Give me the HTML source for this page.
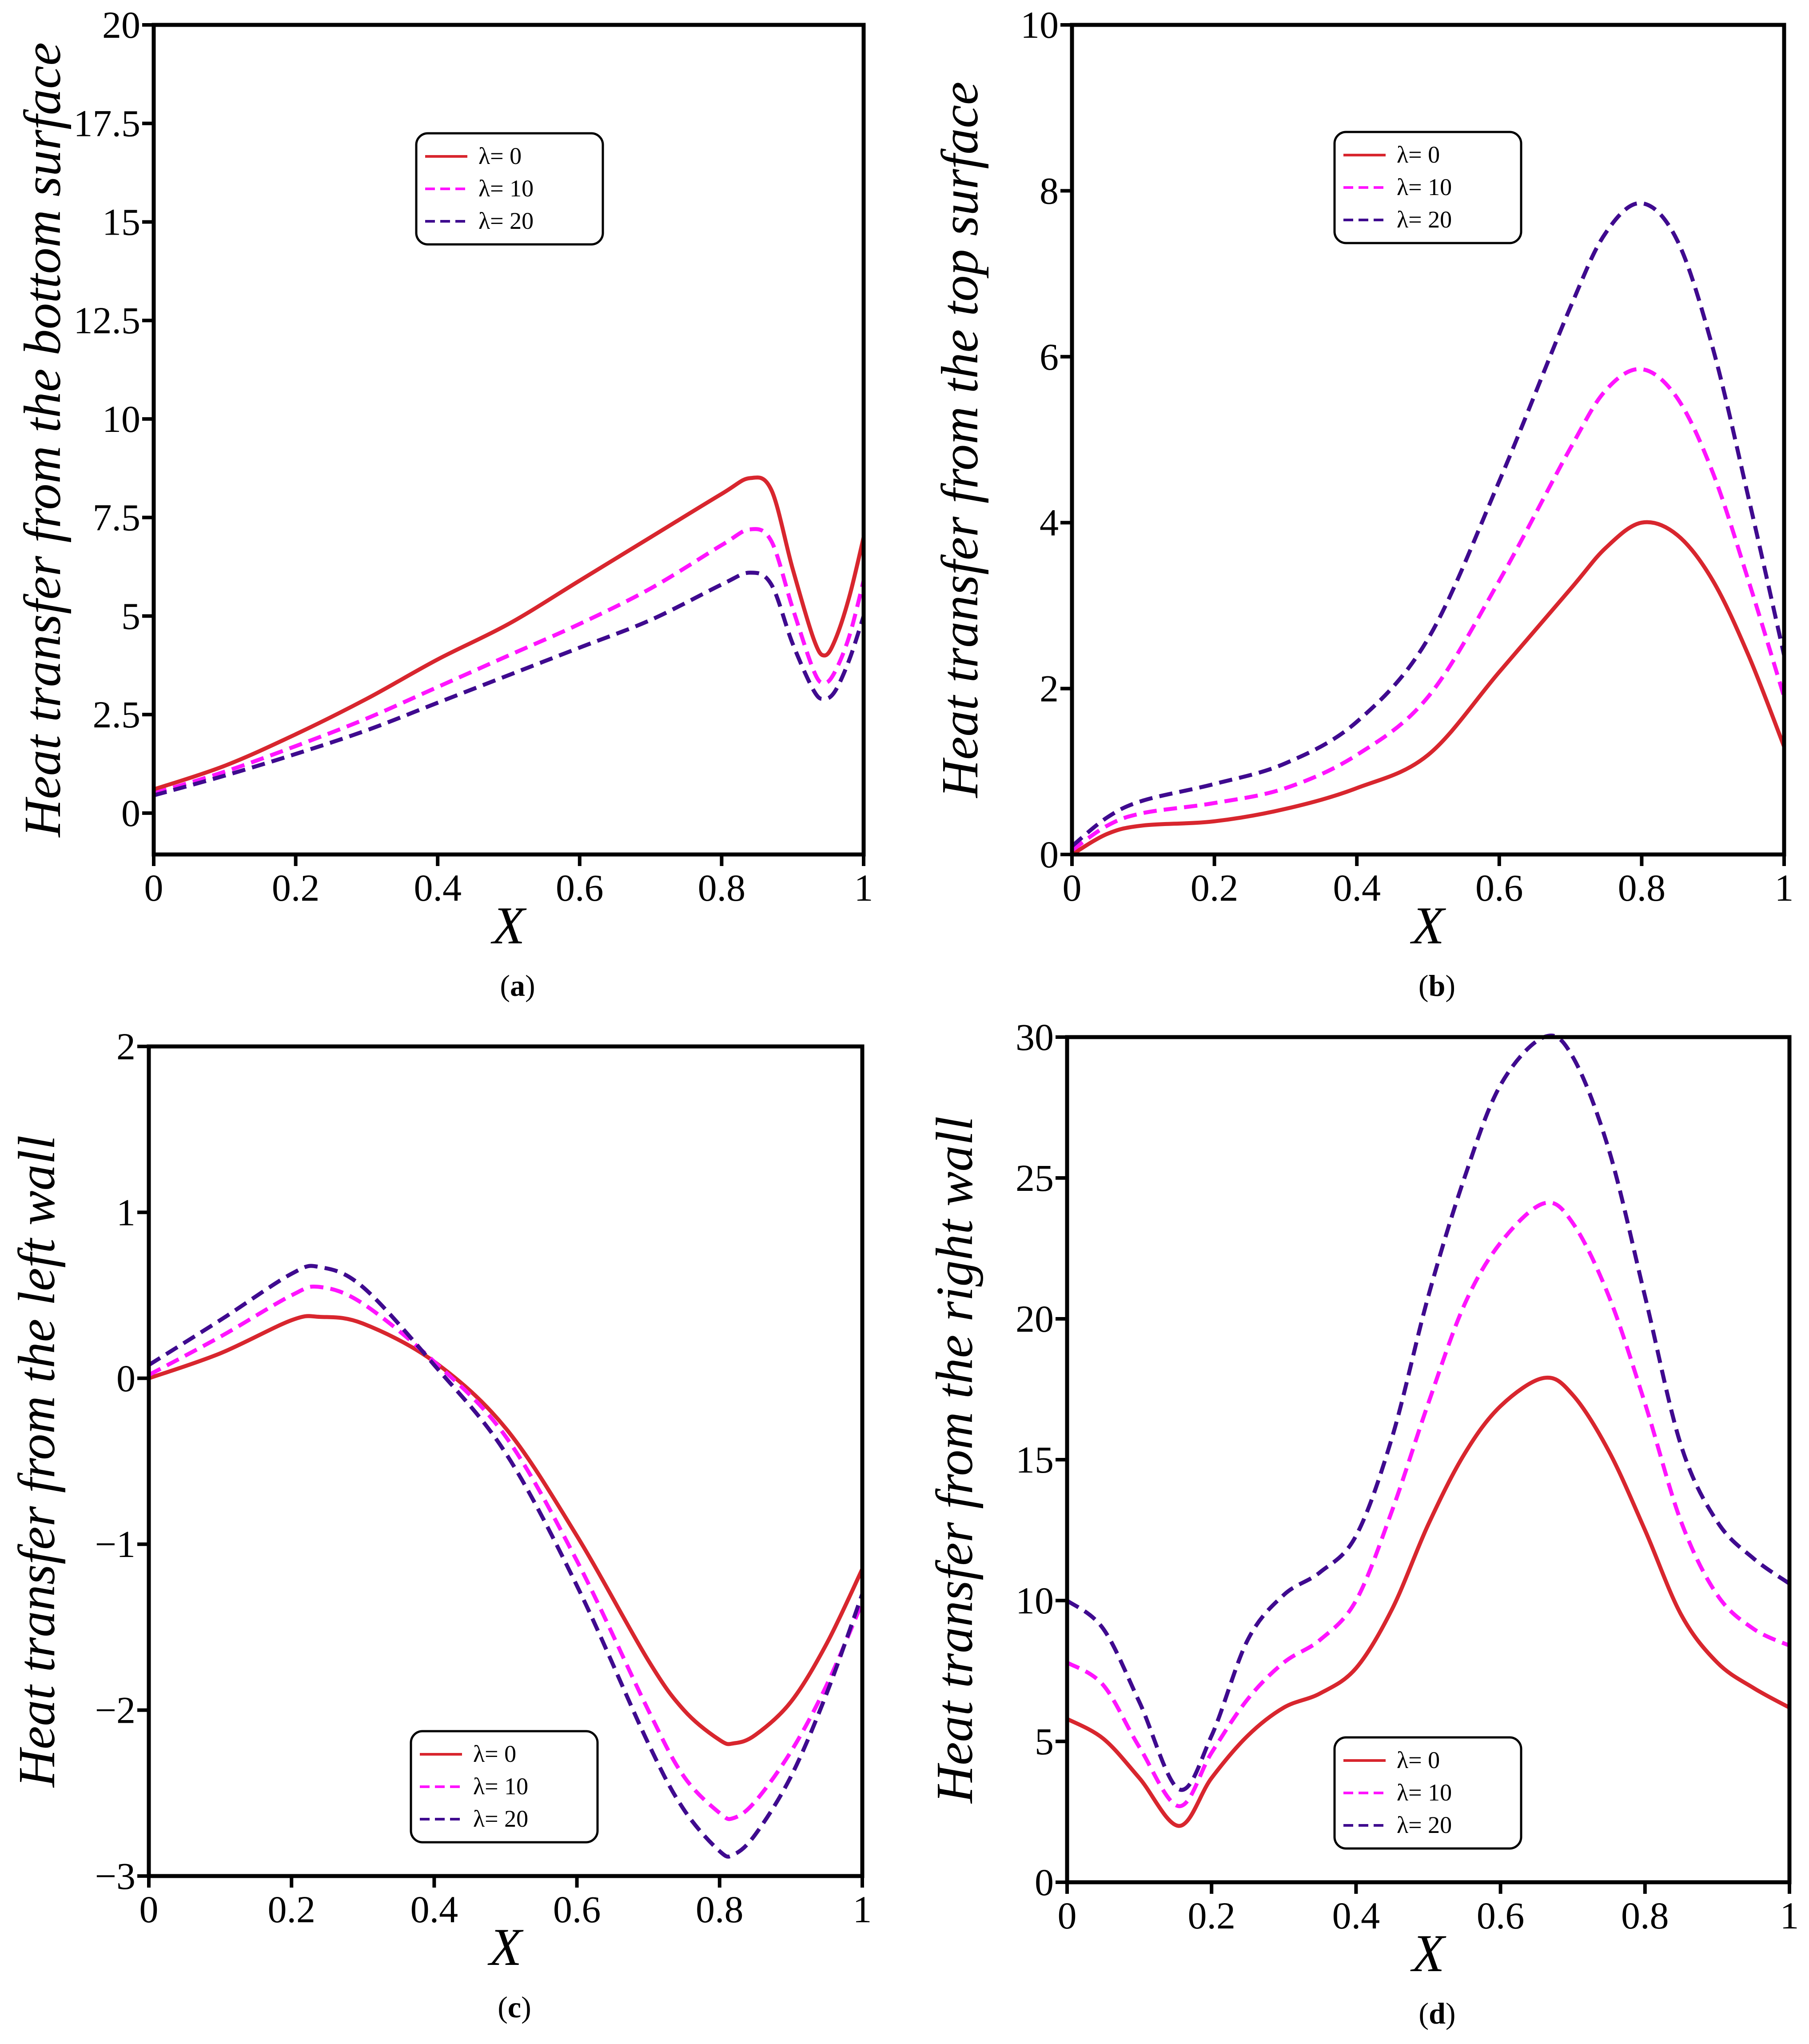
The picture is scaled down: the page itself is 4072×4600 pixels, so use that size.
<!DOCTYPE html>
<html><head><meta charset="utf-8">
<style>
html,body{margin:0;padding:0;background:#fff;}
svg{display:block;}
text{font-family:"Liberation Serif","DejaVu Serif",serif;fill:#000;}
</style></head>
<body>
<svg id="fig" width="4072" height="4600" viewBox="0 0 4072 4600" xmlns="http://www.w3.org/2000/svg"></svg>
<script>
// ---- Panel (a) data ----
const xA = [0,0.1,0.2,0.3,0.4,0.5,0.6,0.7,0.8,0.84,0.87,0.9,0.93,0.945,0.96,0.98,1];
const a0 = [0.6,1.2,2.0,2.9,3.9,4.8,5.9,7.0,8.1,8.5,8.2,6.2,4.4,4.0,4.4,5.5,7.0];
const a10 = [0.5,1.05,1.7,2.4,3.2,4.0,4.8,5.7,6.8,7.2,6.9,5.2,3.6,3.3,3.6,4.5,5.9];
const a20 = [0.45,0.95,1.5,2.1,2.8,3.5,4.2,4.9,5.8,6.1,5.8,4.3,3.1,2.9,3.1,3.9,5.0];
const ticksYA = ["0","2.5","5","7.5","10","12.5","15","17.5","20"];
// ---- Panel (b) data ----
const xB = [0,0.05,0.1,0.2,0.3,0.4,0.5,0.6,0.7,0.75,0.8,0.85,0.9,0.95,1];
const b0 = [0,0.25,0.35,0.4,0.55,0.8,1.2,2.2,3.2,3.7,4.0,3.85,3.3,2.4,1.3];
const b10 = [0.05,0.35,0.5,0.62,0.8,1.2,1.9,3.3,4.9,5.6,5.85,5.5,4.6,3.3,1.9];
const b20 = [0.1,0.45,0.65,0.85,1.1,1.6,2.6,4.5,6.6,7.5,7.85,7.4,6.1,4.3,2.4];
const ticksYB = ["0","2","4","6","8","10"];
// ---- Panel (c) data ----
const xC = [0,0.1,0.2,0.24,0.3,0.4,0.5,0.6,0.7,0.75,0.8,0.82,0.85,0.9,0.95,1];
const c0 = [0,0.15,0.35,0.37,0.33,0.1,-0.3,-0.95,-1.7,-2.0,-2.18,-2.2,-2.15,-1.95,-1.6,-1.15];
const c10 = [0.02,0.25,0.5,0.55,0.45,0.1,-0.35,-1.1,-2.0,-2.4,-2.62,-2.65,-2.55,-2.25,-1.85,-1.35];
const c20 = [0.08,0.35,0.63,0.67,0.55,0.08,-0.45,-1.25,-2.2,-2.6,-2.85,-2.87,-2.75,-2.4,-1.9,-1.3];
const ticksYC = ["\u22123","\u22122","\u22121","0","1","2"];
// ---- Panel (d) data ----
const xD = [0,0.05,0.1,0.155,0.2,0.25,0.3,0.35,0.4,0.45,0.5,0.55,0.6,0.66,0.7,0.75,0.8,0.85,0.9,0.95,1];
const d0 = [5.8,5.1,3.7,2.0,3.7,5.2,6.2,6.7,7.6,9.7,12.7,15.2,16.9,17.9,17.3,15.3,12.5,9.5,7.8,6.9,6.2];
const d10 = [7.8,7.0,4.8,2.7,4.6,6.5,7.8,8.6,10.0,13.2,17.0,20.5,22.7,24.1,23.4,20.8,17.0,12.8,10.2,9.0,8.4];
const d20 = [10.0,9.0,6.4,3.3,5.2,8.6,10.2,11.0,12.3,15.8,20.8,25.0,28.3,30.0,29.3,26.0,20.8,15.5,12.8,11.5,10.6];
const ticksYD = ["0","5","10","15","20","25","30"];
const ticksX = ["0","0.2","0.4","0.6","0.8","1"];
const legendLabels = ["\u03bb= 0","\u03bb= 10","\u03bb= 20"];

const NS="http://www.w3.org/2000/svg";
const svg=document.getElementById('fig');
function mk(tag,attrs,parent){const e=document.createElementNS(NS,tag);for(const k in attrs)e.setAttribute(k,attrs[k]);(parent||svg).appendChild(e);return e;}
function smooth(pts){let d="M"+pts[0][0]+","+pts[0][1];for(let i=0;i<pts.length-1;i++){const p0=pts[Math.max(0,i-1)],p1=pts[i],p2=pts[i+1],p3=pts[Math.min(pts.length-1,i+2)];const c1=[p1[0]+(p2[0]-p0[0])/6,p1[1]+(p2[1]-p0[1])/6];const c2=[p2[0]-(p3[0]-p1[0])/6,p2[1]-(p3[1]-p1[1])/6];d+=" C"+c1[0].toFixed(1)+","+c1[1].toFixed(1)+" "+c2[0].toFixed(1)+","+c2[1].toFixed(1)+" "+p2[0].toFixed(1)+","+p2[1].toFixed(1);}return d;}
const styles=[{c:"#d8262e",dash:null,n:"lambda-0"},{c:"#ff14ff",dash:"30 16",n:"lambda-10"},{c:"#3f0a8f",dash:"30 16",n:"lambda-20"}];

function panel(o){
  const g=mk('g',{});
  
  
  const W=o.R-o.L,H=o.B-o.T;
  const xs=v=>o.L+v*W, ys=v=>o.B-(v-o.ymin)/(o.ymax-o.ymin)*H;
  const clip=mk('clipPath',{id:'clip'+o.id},g);mk('rect',{x:o.L,y:o.T-20,width:W,height:H+20},clip);
  const series=[o.s0,o.s10,o.s20];
  series.forEach((arr,k)=>{
    const pts=o.xv.map((x,i)=>[xs(x),ys(arr[i])]);
    const p=mk('path',{d:smooth(pts),fill:'none',stroke:styles[k].c,'stroke-width':9,'clip-path':'url(#clip'+o.id+')'},g);
    if(styles[k].dash)p.setAttribute('stroke-dasharray',styles[k].dash);
    
    
  });
  const f=mk('rect',{x:o.L,y:o.T,width:W,height:H,fill:'none',stroke:'#000','stroke-width':9},g);
  
  
  o.yt.forEach(t=>{const v=parseFloat(t.replace('\u2212','-'));const y=ys(v);
    mk('line',{x1:o.L-26,x2:o.L,y1:y,y2:y,stroke:'#000','stroke-width':8},g);
    const tx=mk('text',{x:o.L-30,y:y+29,'font-size':86,'text-anchor':'end'},g);tx.textContent=t;
    
    });
  ticksX.forEach(t=>{const x=xs(parseFloat(t));
    mk('line',{x1:x,x2:x,y1:o.B,y2:o.B+26,stroke:'#000','stroke-width':8},g);
    const tx=mk('text',{x:x,y:o.B+104,'font-size':86,'text-anchor':'middle'},g);tx.textContent=t;
    
    });
  const yt=mk('text',{x:0,y:0,'font-size':118,'font-style':'italic','text-anchor':'middle',transform:'translate('+o.ytx+','+((o.T+o.B)/2)+') rotate(-90)'},g);
  yt.textContent=o.ytitle;
  
  
  const xt=mk('text',{x:(o.L+o.R)/2,y:o.B+200,'font-size':120,'font-style':'italic','text-anchor':'middle'},g);xt.textContent='X';
  
  
  const cap=mk('text',{x:(o.L+o.R)/2+20,y:o.B+318,'font-size':68,'text-anchor':'middle'},g);
  cap.innerHTML='(<tspan font-weight="bold">'+o.id+'</tspan>)';
  
  
  const lg=mk('g',{},g);
  
  
  mk('rect',{x:o.lx,y:o.ly,width:420,height:250,rx:26,fill:'#fff',stroke:'#000','stroke-width':5},lg);
  styles.forEach((s,k)=>{const yy=o.ly+52+k*73;
    const l=mk('line',{x1:o.lx+20,x2:o.lx+115,y1:yy,y2:yy,stroke:s.c,'stroke-width':6},lg);
    if(s.dash)l.setAttribute('stroke-dasharray','22 12');
    const tx=mk('text',{x:o.lx+140,y:yy+17,'font-size':54},lg);tx.textContent=legendLabels[k];
    
    });
}
panel({id:'a',L:346,R:1944,T:56,B:1923,ymin:-1.05,ymax:20,xv:xA,s0:a0,s10:a10,s20:a20,yt:ticksYA,ytx:135,ytitle:'Heat transfer from the bottom surface',lx:937,ly:300});
panel({id:'b',L:2413,R:4016,T:56,B:1923,ymin:0,ymax:10,xv:xB,s0:b0,s10:b10,s20:b20,yt:ticksYB,ytx:2200,ytitle:'Heat transfer from the top surface',lx:3004,ly:297});
panel({id:'c',L:335,R:1941,T:2355,B:4222,ymin:-3,ymax:2,xv:xC,s0:c0,s10:c10,s20:c20,yt:ticksYC,ytx:122,ytitle:'Heat transfer from the left wall',lx:925,ly:3896});
panel({id:'d',L:2402,R:4028,T:2334,B:4236,ymin:0,ymax:30,xv:xD,s0:d0,s10:d10,s20:d20,yt:ticksYD,ytx:2188,ytitle:'Heat transfer from the right wall',lx:3004,ly:3910});
</script>
</body></html>
